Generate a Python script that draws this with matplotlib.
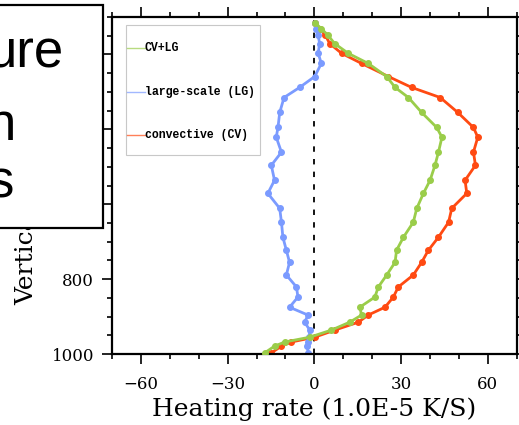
import matplotlib
matplotlib.use("Agg")
import matplotlib.pyplot as plt
from matplotlib.lines import Line2D
from matplotlib.patches import Rectangle

# pressure levels (hPa)
levels = [115, 131, 149, 171, 197, 224, 259, 288, 315, 355, 395, 421, 461, 496,
          536, 571, 611, 648, 688, 723, 755, 789, 821, 848, 875, 896, 915, 936,
          955, 968, 979, 997]

# heating rates (1.0E-5 K/S)
cv_lg = [0.1, 2.4, 4.7, 7.0, 11.7, 18.6, 25.0, 27.9, 32.5, 37.1, 42.3, 44.1,
         42.9, 41.7, 40.0, 37.7, 35.4, 34.2, 30.8, 28.4, 27.9, 25.0, 22.1, 20.9,
         15.7, 16.3, 12.2, 5.9, -1.6, -10.3, -13.8, -17.2]
large_scale = [0.1, 0.7, 1.3, 1.8, 1.3, 2.4, 0.1, -5.1, -10.5, -12.0, -12.6, -13.2,
               -11.4, -14.9, -13.8, -16.1, -12.0, -11.4, -10.9, -9.7, -8.6, -9.7,
               -6.2, -5.7, -8.6, -2.2, -3.4, -1.6, -1.8, -2.2, -2.4, -2.2]
convective = [0.3, 1.8, 3.8, 5.3, 9.4, 16.3, 25.6, 33.6, 43.5, 49.6, 55.0, 56.5,
              55.0, 55.7, 52.1, 52.7, 47.5, 46.4, 42.9, 39.4, 37.1, 34.2, 29.0,
              27.3, 24.4, 18.6, 15.2, 7.1, 0.1, -8.0, -11.4, -14.9]

labels = ["CV+LG", "large-scale (LG)", "convective (CV)"]
colors = ["#9acd4a", "#7b9bff", "#ff4a12"]

plt.rcParams["font.family"] = "DejaVu Serif"

fig = plt.figure(figsize=(5.19, 4.25), dpi=100)
ax = fig.add_axes([0.2158, 0.167, 0.780, 0.793])

ax.axvline(0, color="black", lw=1.3, ls=(0, (3, 4)), zorder=1)

ax.plot(convective, levels, color=colors[2], lw=2, marker="o", ms=4, zorder=2)
ax.plot(large_scale, levels, color=colors[1], lw=2, marker="o", ms=4, zorder=2)
ax.plot(cv_lg, levels, color=colors[0], lw=2, marker="o", ms=4, zorder=3)

ax.set_xlim(-70, 70)
ax.set_ylim(1000, 100)
ax.set_xticks([-60, -30, 0, 30, 60])
ax.set_xticks(range(-70, 71, 10), minor=True)
ax.set_yticks([200, 400, 600, 800, 1000])
ax.set_yticks(range(100, 1001, 50), minor=True)
ax.tick_params(which="both", direction="out", top=True, right=True,
               labelsize=12, width=1.2)
ax.tick_params(which="major", length=7, pad=6)
ax.tick_params(axis="x", which="major", pad=9)
ax.tick_params(which="minor", length=3.5)
for s in ax.spines.values():
    s.set_linewidth(1.6)

ax.set_xlabel("Heating rate (1.0E-5 K/S)", fontsize=18, labelpad=3)
ax.set_ylabel("Vertical level (hPa)", fontsize=18, labelpad=9)

# legend drawn by hand: lines start at the frame edge
ax.add_patch(Rectangle((0.0346, 0.590), 0.330, 0.386, transform=ax.transAxes,
                       fill=False, edgecolor="#c8c8c8", lw=0.8, zorder=4))
leg_y = [0.908, 0.777, 0.650]
for lab, col, yy in zip(labels, colors, leg_y):
    ax.add_line(Line2D([0.037, 0.0815], [yy, yy], transform=ax.transAxes,
                       color=col, lw=1, alpha=0.7, zorder=4))
    ax.text(0.0815, yy, lab, transform=ax.transAxes, va="center", ha="left",
            fontsize=8.3, family="Liberation Mono", fontweight="bold", zorder=4)

# overlay box with cut-off title text
fig.patches.append(Rectangle((-0.02, 0.4635), 0.2185, 0.5247,
                             transform=fig.transFigure, facecolor="white",
                             edgecolor="black", lw=1.6, zorder=10))
for txt, xp, yp in [("ure", 64, 67), ("n", 16, 140), ("s", 14, 197)]:
    fig.text(xp / 519, 1 - yp / 425, txt, ha="right", va="baseline",
             fontsize=38, family="Liberation Sans", zorder=11)

fig.savefig("out.png", dpi=100)
